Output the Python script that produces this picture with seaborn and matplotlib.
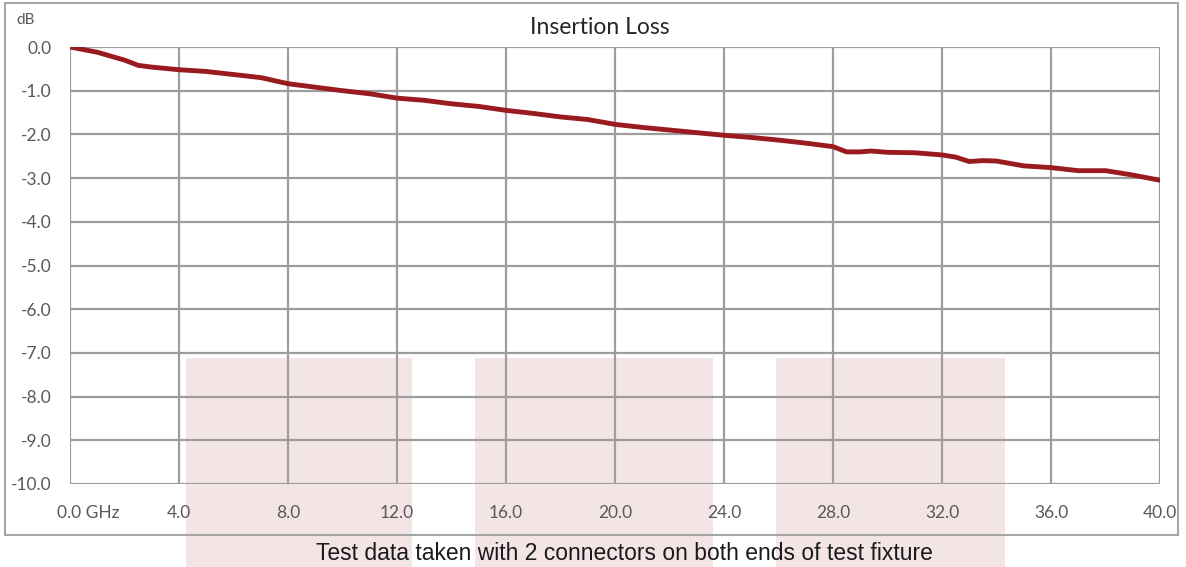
import numpy as np
import pandas as pd
import matplotlib
matplotlib.use('Agg')
import matplotlib.pyplot as plt
import matplotlib.transforms as mtransforms
import seaborn as sns
from matplotlib.patches import Rectangle

# --- data ---
freq_ghz = [0, 1, 2, 2.5, 3, 4, 5, 6, 7, 8, 9, 10, 11, 12, 13, 14, 15, 16, 17, 18,
            19, 20, 21, 22, 23, 24, 25, 26, 27, 28, 28.5, 29, 29.4, 30, 31, 32, 32.5,
            33, 33.5, 34, 35, 36, 37, 38, 39, 40]
loss_db = [0.0, -0.12, -0.30, -0.42, -0.46, -0.52, -0.56, -0.63, -0.70, -0.84, -0.92,
           -1.00, -1.07, -1.17, -1.22, -1.30, -1.36, -1.45, -1.52, -1.60, -1.66, -1.77,
           -1.84, -1.90, -1.96, -2.02, -2.07, -2.13, -2.20, -2.28, -2.40, -2.40, -2.38,
           -2.41, -2.42, -2.47, -2.52, -2.62, -2.60, -2.61, -2.72, -2.76, -2.83, -2.83,
           -2.93, -3.05]
x_ticks = [0, 4, 8, 12, 16, 20, 24, 28, 32, 36, 40]
x_tick_labels = ['0.0 GHz'] + [f'{v:.1f}' for v in x_ticks[1:]]
y_ticks = list(range(0, -11, -1))
y_tick_labels = [f'{v:.1f}' for v in y_ticks]

df = pd.DataFrame({'freq': freq_ghz, 'loss': loss_db})

sns.set_theme(style='white')
plt.rcParams['font.family'] = ['Lato', 'DejaVu Sans']

W, H = 1186, 567
fig = plt.figure(figsize=(W / 100, H / 100), dpi=100)
fig.patch.set_facecolor('white')

# pale pink blocks behind the chart
pink = '#f3e5e6'
for x0, x1 in [(186, 412), (475, 713), (776, 1005)]:
    fig.patches.append(Rectangle((x0 / W, 0), (x1 - x0) / W, (567 - 358) / H,
                                 transform=fig.transFigure, facecolor=pink,
                                 edgecolor='none', zorder=0))

# outer chart border
fig.patches.append(Rectangle((5 / W, 1 - 535 / H), (1178 - 5) / W, (535 - 3) / H,
                             transform=fig.transFigure, facecolor='none',
                             edgecolor='#a6a6a6', lw=1.5, zorder=1))

ax = fig.add_axes([70 / W, 1 - 484 / H, (1160 - 70) / W, (484 - 47) / H])
ax.set_facecolor('none')
ax.set_zorder(2)

sns.lineplot(data=df, x='freq', y='loss', ax=ax, color='#9a1b1f', lw=3.5, zorder=3)

ax.set_xlim(0, 40)
ax.set_ylim(-10, 0)
ax.set_xticks(x_ticks)
ax.set_xticklabels(x_tick_labels)
ax.set_yticks(y_ticks)
ax.set_yticklabels(y_tick_labels)
ax.grid(True, color='#9d9d9d', lw=1.6)
for s in ax.spines.values():
    s.set_visible(False)
ax.tick_params(axis='both', length=0, colors='#595959', labelsize=12.5)
ax.tick_params(axis='x', pad=15)
ax.tick_params(axis='y', pad=13.5)
ax.set_xlabel('')
ax.set_ylabel('')

# "0.0" sits on the tick, " GHz" runs to the right
first = ax.get_xticklabels()[0]
first.set_horizontalalignment('left')
first.set_transform(first.get_transform() +
                    mtransforms.ScaledTranslation(-13 / 100, 0, fig.dpi_scale_trans))

fig.text(16 / W, 1 - 20 / H, 'dB', fontsize=11, color='#595959', va='center', ha='left')
fig.text(600 / W, 1 - 28 / H, 'Insertion Loss', fontsize=16.5, color='#262626',
         va='center', ha='center')
fig.text(624 / W, 1 - 553 / H, 'Test data taken with 2 connectors on both ends of test fixture',
         fontsize=16.5, color='#1a1a1a', va='center', ha='center', family='Liberation Sans')

fig.savefig('out.png', dpi=100)
